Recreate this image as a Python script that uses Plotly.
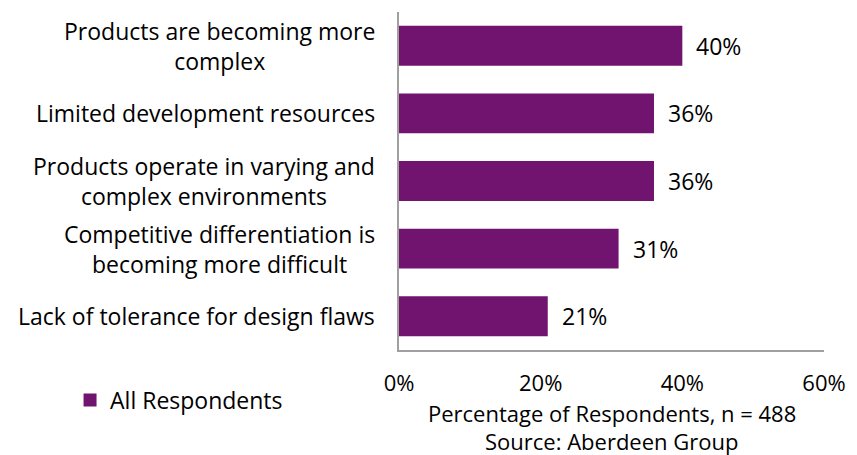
import plotly.graph_objects as go

categories = [
    "Products are becoming more<br>complex",
    "Limited development resources",
    "Products operate in varying and<br>complex environments",
    "Competitive differentiation is<br>becoming more difficult",
    "Lack of tolerance for design flaws",
]
values = [0.40, 0.36, 0.36, 0.31, 0.21]
value_labels = ["40%", "36%", "36%", "31%", "21%"]
tick_vals = [0, 0.2, 0.4, 0.6]
tick_text = ["0%", "20%", "40%", "60%"]
series_name = "All Respondents"
axis_title = "Percentage of Respondents, n = 488"
source_text = "Source: Aberdeen Group"

FONT = "Open Sans"
FS = 23
BAR = "#71146F"
font = dict(family=FONT, size=FS, color="#000000")
font_small = dict(family=FONT, size=22, color="#000000")

fig = go.Figure()
fig.add_trace(go.Bar(
    y=categories, x=values, orientation="h", name=series_name,
    marker=dict(color=BAR, line=dict(width=0)),
    width=0.59, showlegend=False,
))
# legend-only entry with a square swatch
fig.add_trace(go.Scatter(
    x=[None], y=[None], mode="markers", name=series_name,
    marker=dict(symbol="square", size=13, color=BAR),
    showlegend=True,
))

annotations = []
for c in categories:
    annotations.append(dict(
        xref="paper", yref="y", x=0, y=c, xanchor="right", yanchor="middle",
        text=c, align="center", showarrow=False, xshift=-22, font=font,
    ))
for c, v, t in zip(categories, values, value_labels):
    annotations.append(dict(
        xref="x", yref="y", x=v, y=c, xanchor="left", yanchor="middle",
        text=t, showarrow=False, xshift=12, font=font,
    ))
annotations.append(dict(xref="paper", yref="paper", x=0.5, y=0, yshift=-63,
                        xanchor="center", yanchor="middle", text=axis_title,
                        showarrow=False, font=font_small))
annotations.append(dict(xref="paper", yref="paper", x=0.5, y=0, yshift=-91,
                        xanchor="center", yanchor="middle", text=source_text,
                        showarrow=False, font=font_small))

fig.update_layout(
    width=857, height=455,
    margin=dict(l=399, r=33, t=12, b=105),
    paper_bgcolor="white", plot_bgcolor="white",
    bargap=0.4,
    showlegend=True,
    legend=dict(x=-0.774, y=-0.148, xanchor="left", yanchor="middle",
                font=font, itemwidth=30, bgcolor="rgba(0,0,0,0)"),
    xaxis=dict(range=[0, 0.6], tickvals=tick_vals, ticktext=tick_text,
               showgrid=False, zeroline=False, showline=True,
               linecolor="#A0A0A0", linewidth=1.5, ticks="",
               ticklabelstandoff=13, tickfont=font_small),
    yaxis=dict(autorange="reversed", showticklabels=False, showgrid=False,
               zeroline=False, showline=True, linecolor="#A0A0A0",
               linewidth=1.5, ticks=""),
    annotations=annotations,
)

fig.write_html("out.html")
